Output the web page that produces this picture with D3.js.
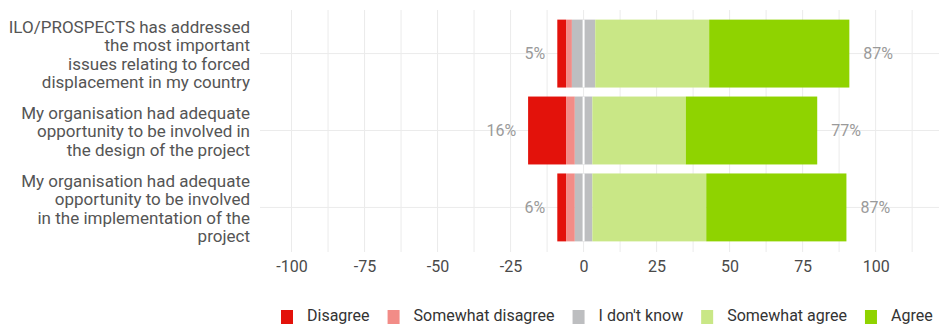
<!DOCTYPE html>
<html>
<head>
<meta charset="utf-8">
<script src="https://cdn.jsdelivr.net/npm/d3@7"></script>
<style>
  html, body { margin: 0; padding: 0; background: #fff; }
  svg { display: block; font-family: Roboto, sans-serif; }
</style>
</head>
<body>
<svg id="chart" width="939" height="324"></svg>
<script>
const questions = [
    ["ILO/PROSPECTS has addressed", "the most important", "issues relating to forced", "displacement in my country"],
    ["My organisation had adequate", "opportunity to be involved in", "the design of the project"],
    ["My organisation had adequate", "opportunity to be involved", "in the implementation of the", "project"]
];
const disagree = [3, 13, 3];
const somewhatDisagree = [2, 3, 3];
const dontKnow = [8, 6, 6];
const somewhatAgree = [39, 32, 39];
const agree = [48, 45, 48];

const seriesNames = ["Disagree", "Somewhat disagree", "I don't know", "Somewhat agree", "Agree"];
const seriesColors = ["#e3120b", "#f28c87", "#bdbec0", "#c9e786", "#8fd300"];
const xTicks = [-100, -75, -50, -25, 0, 25, 50, 75, 100];

const svg = d3.select("#chart");
const width = 939;

const x = d3.scaleLinear().domain([-110.8, 121.7]).range([260, width]);
const y = d3.scaleBand()
    .domain(d3.range(questions.length))
    .range([15, 246])
    .paddingInner(0.117)
    .paddingOuter(0.06);

// grid
const grid = svg.append("g").attr("stroke", "#ebebeb").attr("stroke-width", 1);
grid.selectAll("line.v")
    .data(d3.range(-100, 121, 12.5))
    .join("line")
    .attr("x1", d => x(d)).attr("x2", d => x(d))
    .attr("y1", 10).attr("y2", 252);
grid.selectAll("line.h")
    .data(d3.range(questions.length))
    .join("line")
    .attr("x1", 260).attr("x2", width)
    .attr("y1", d => y(d) + y.bandwidth() / 2)
    .attr("y2", d => y(d) + y.bandwidth() / 2);

// build segments: negative side grows left from 0, positive right
const rows = questions.map((q, i) => {
    const vals = [disagree[i], somewhatDisagree[i], dontKnow[i], somewhatAgree[i], agree[i]];
    const neg = vals[0] + vals[1] + vals[2] / 2;
    let start = -neg;
    const segs = vals.map((v, k) => {
        const s = { row: i, k, x0: start, x1: start + v };
        start += v;
        return s;
    });
    return { i, segs, left: -neg, right: start, negPct: vals[0] + vals[1], posPct: vals[3] + vals[4] };
});

svg.append("g")
    .selectAll("rect")
    .data(rows.flatMap(r => r.segs))
    .join("rect")
    .attr("x", d => x(d.x0))
    .attr("width", d => x(d.x1) - x(d.x0))
    .attr("y", d => y(d.row))
    .attr("height", y.bandwidth())
    .attr("fill", d => seriesColors[d.k]);

// white split at zero
svg.append("g")
    .selectAll("line")
    .data(rows)
    .join("line")
    .attr("x1", x(0)).attr("x2", x(0))
    .attr("y1", d => y(d.i)).attr("y2", d => y(d.i) + y.bandwidth())
    .attr("stroke", "#fff").attr("stroke-width", 2);

// percent labels
const pct = svg.append("g").attr("font-size", 16).attr("fill", "#9a9a9a");
pct.selectAll("text.neg")
    .data(rows)
    .join("text")
    .attr("x", d => x(d.left) - 12)
    .attr("y", d => y(d.i) + y.bandwidth() / 2)
    .attr("dy", "0.35em")
    .attr("text-anchor", "end")
    .text(d => d.negPct + "%");
pct.selectAll("text.pos")
    .data(rows)
    .join("text")
    .attr("class", "pos")
    .attr("x", d => x(d.right) + 14)
    .attr("y", d => y(d.i) + y.bandwidth() / 2)
    .attr("dy", "0.35em")
    .attr("text-anchor", "start")
    .text(d => d.posPct + "%");

// category labels
const lineH = 18.4;
svg.append("g")
    .attr("font-size", 17)
    .attr("fill", "#555")
    .attr("text-anchor", "end")
    .selectAll("text")
    .data(questions)
    .join("text")
    .attr("transform", (d, i) => `translate(250,${y(i) + y.bandwidth() / 2 - (d.length - 1) * lineH / 2 + 1})`)
    .selectAll("tspan")
    .data(d => d)
    .join("tspan")
    .attr("x", 0)
    .attr("y", (d, j) => j * lineH)
    .attr("dy", "0.35em")
    .text(d => d);

// x axis
const xAxis = svg.append("g")
    .attr("transform", "translate(0,252)")
    .call(d3.axisBottom(x).tickValues(xTicks).tickFormat(d => String(d)).tickSize(0).tickPadding(9));
xAxis.select(".domain").remove();
xAxis.selectAll("text")
    .attr("font-family", "Roboto, sans-serif")
    .attr("font-size", 16)
    .attr("fill", "#4a4a4a");

// legend
const legend = svg.append("g").attr("font-size", 16).attr("fill", "#333");
let lx = 281;
seriesNames.forEach((name, k) => {
    const g = legend.append("g").attr("transform", `translate(${lx},0)`);
    g.append("rect").attr("x", 0).attr("y", 310).attr("width", 12).attr("height", 14)
        .attr("fill", seriesColors[k]);
    const t = g.append("text").attr("x", 26).attr("y", 320.5).text(name);
    lx += 26 + t.node().getComputedTextLength() + 18;
});
</script>
</body>
</html>
